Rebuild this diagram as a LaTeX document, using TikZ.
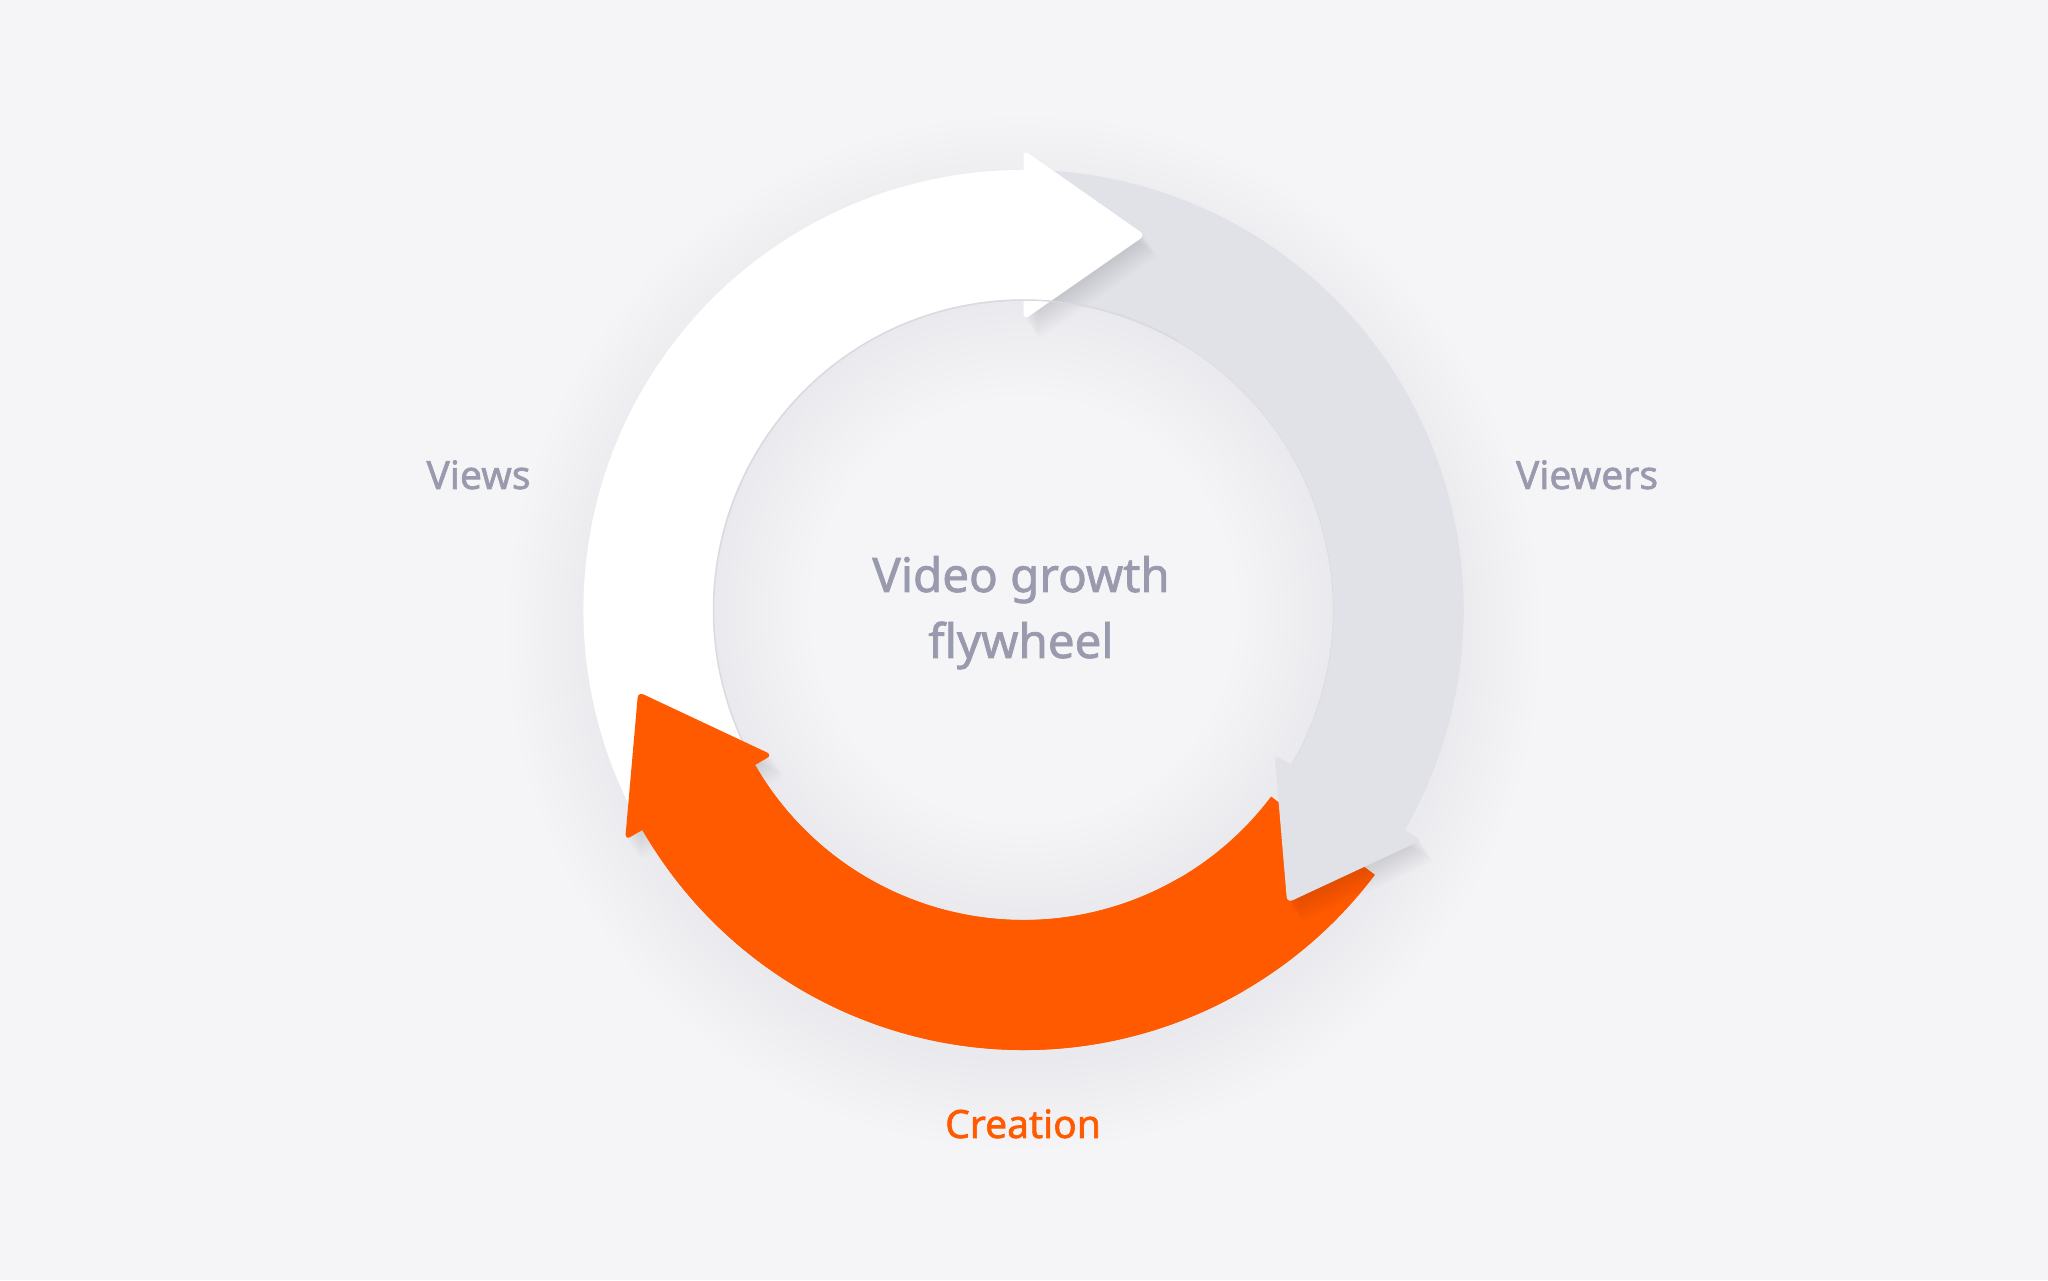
\documentclass[tikz,border=0pt]{standalone}
\usepackage{fontspec}
\setmainfont{Noto Sans}[AutoFakeBold=1.5]
\usepackage{tikz}

\definecolor{bgc}{RGB}{245,245,247}
\definecolor{greyarr}{RGB}{225,225,232}
\definecolor{lblgrey}{RGB}{154,154,174}
\definecolor{flyorange}{RGB}{255,90,0}
\definecolor{halo}{RGB}{234,234,238}
\definecolor{rim}{RGB}{234,234,238}
\definecolor{rimline}{RGB}{218,218,224}

\pgfdeclareradialshading{ringhalo}{\pgfpoint{0bp}{0bp}}{color(0bp)=(halo); color(20.5bp)=(halo); color(25bp)=(bgc); color(50bp)=(bgc)}
\pgfdeclareradialshading{innerglow}{\pgfpoint{0bp}{0bp}}{color(0bp)=(bgc); color(17bp)=(bgc); color(25bp)=(rim); color(50bp)=(rim)}

\begin{document}
\begin{tikzpicture}[x=1pt, y=1pt,
    lbl/.style={font=\fontsize{39}{47}\selectfont\bfseries, text=lblgrey, inner sep=0pt, anchor=base},
    headshade/.style={fill=black, opacity=0.013, rounded corners=6}]
    \useasboundingbox (0,0) rectangle (2048,1280);
    \fill[bgc] (0,0) rectangle (2048,1280);

    \begin{scope}[shift={(1023.5,670)}]
        % soft shadow round the wheel
        \shade[shading=ringhalo] (0,-22) circle (520);
        \shade[shading=innerglow] (0,0) circle (310);

        % arrow bodies
        \fill[white] (208:440) arc[start angle=208, end angle=90, radius=440] -- (90:310) arc[start angle=90, end angle=208, radius=310] -- cycle;
        \fill[greyarr] (90:440) arc[start angle=90, end angle=-30, radius=440] -- (-30:310) arc[start angle=-30, end angle=90, radius=310] -- cycle;
        \fill[flyorange] (-37:440) arc[start angle=-37, end angle=-150, radius=440] -- (-150:310) arc[start angle=-150, end angle=-37, radius=310] -- cycle;
        \draw[rimline, line width=1.5] (-30:310) arc[start angle=-30, end angle=210, radius=310];

        % arrow heads, each with a soft shadow
        \foreach \a/\c in {90/white, -30/greyarr, 210/flyorange} {
            \foreach \s in {3,6,...,27}
                \path[headshade, shift={(0.5*\s,-0.75*\s)}] (\a:290) -- (\a:460) -- ({\a-18}:394) -- cycle;
            \fill[\c, rounded corners=6] (\a:290) -- (\a:460) -- ({\a-18}:394) -- cycle;
        }

        % clean the heads' shadows off their own bodies
        \fill[white] (170:440) arc[start angle=170, end angle=89.5, radius=440] -- (89.5:310) arc[start angle=89.5, end angle=170, radius=310] -- cycle;
        \fill[greyarr] (60:440) arc[start angle=60, end angle=-30, radius=440] -- (-30:310) arc[start angle=-30, end angle=60, radius=310] -- cycle;
        \fill[flyorange] (-60:440) arc[start angle=-60, end angle=-150, radius=440] -- (-150:310) arc[start angle=-150, end angle=-60, radius=310] -- cycle;
        \draw[rimline, line width=1.5] (60:310) arc[start angle=60, end angle=170, radius=310];
    \end{scope}

    \node[lbl] (views) at (478.5,791) {Views};
    \node[lbl] (viewers) at (1587,791) {Viewers};
    \node[lbl, text=flyorange] (creation) at (1023,142) {Creation};
    \node[lbl, font=\fontsize{47.5}{66}\selectfont\bfseries, align=center] (title) at (1021,622) {Video growth\\flywheel};
\end{tikzpicture}
\end{document}
